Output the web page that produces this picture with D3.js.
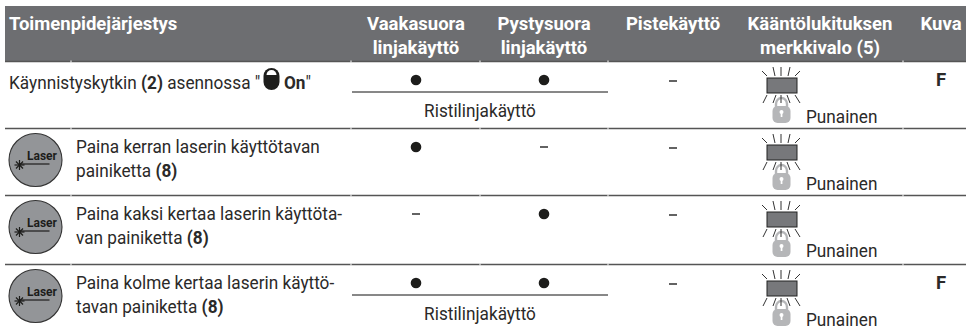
<!DOCTYPE html>
<html>
<head>
<meta charset="utf-8">
<script src="https://cdn.jsdelivr.net/npm/d3@7"></script>
<style>
  body { margin: 0; background: #fff; }
  text { font-family: Roboto, "Liberation Sans", sans-serif; }
</style>
</head>
<body>
<div id="chart"></div>
<script>
(function() {
  var width = 971, height = 330;

  var columns = ["Toimenpidejärjestys", "Vaakasuora", "Pystysuora", "Pistekäyttö", "Kääntölukituksen", "Kuva"];
  var columnsLine2 = ["", "linjakäyttö", "linjakäyttö", "", "merkkivalo (5)", ""];
  var rowIds = ["r1", "r2", "r3", "r4"];

  var rowLabels = [
    [["Käynnistyskytkin ", false], ["(2)", true], [" asennossa \"", false]],
    [["Paina kerran laserin käyttötavan", false]],
    [["Paina kaksi kertaa laserin käyttöta-", false]],
    [["Paina kolme kertaa laserin käyttö-", false]]
  ];
  var rowLabels2 = [
    [],
    [["painiketta ", false], ["(8)", true]],
    [["van painiketta ", false], ["(8)", true]],
    [["tavan painiketta ", false], ["(8)", true]]
  ];

  var horizontal = ["on", "on", "off", "on"];
  var vertical = ["on", "off", "on", "on"];
  var point = ["off", "off", "off", "off"];
  var crossLabel = ["Ristilinjakäyttö", "", "", "Ristilinjakäyttö"];
  var lampLabel = ["Punainen", "Punainen", "Punainen", "Punainen"];
  var figure = ["F", "", "", "F"];

  var colX = d3.scaleOrdinal().domain(columns).range([9, 416, 544, 673, 820, 941]);
  var rowTop = d3.scaleOrdinal().domain(rowIds).range([62, 129, 196, 265]);
  var gaps = [71, 351, 480, 608, 903];

  var ink = "#2b2a29", grey = "#6d6e71", bodySize = 18.5, headSize = 18.5, bodyWidth = 0.93;

  var svg = d3.select("#chart").append("svg")
    .attr("width", width)
    .attr("height", height)
    .style("display", "block");

  function label(g, x, y, parts, size, anchor, fill, squeeze) {
    var t = g.append("text")
      .attr("transform", "translate(" + x + "," + y + ") scale(" + (squeeze || 1) + ",1)")
      .attr("text-anchor", anchor)
      .style("font-size", size + "px")
      .attr("fill", fill);
    parts.forEach(function(p) {
      t.append("tspan").attr("font-weight", p[1] ? 700 : 400).text(p[0]);
    });
    return t;
  }

  // header band
  svg.append("rect").attr("x", 5).attr("y", 6).attr("width", 961).attr("height", 55).attr("fill", grey);

  columns.forEach(function(c, i) {
    var anchor = i === 0 ? "start" : "middle";
    label(svg, colX(c), 30, [[c, true]], headSize, anchor, "#fff");
    if (columnsLine2[i] !== "") label(svg, colX(c), 54, [[columnsLine2[i], true]], headSize, anchor, "#fff");
  });

  // row separators, small white gaps at the column borders
  rowIds.forEach(function(id, i) {
    var y = rowTop(id) - 0.5;
    svg.append("line").attr("x1", 5).attr("x2", 966).attr("y1", y).attr("y2", y)
      .attr("stroke", "#555").attr("stroke-width", 1.4);
    svg.selectAll(".gap" + i)
      .data(gaps)
      .enter().append("rect")
      .attr("class", "gap" + i)
      .attr("x", function(d) { return d - 0.5 })
      .attr("y", y - 1)
      .attr("width", 1)
      .attr("height", 2)
      .attr("fill", "#fff");
  });

  rowIds.forEach(function(id, i) {
    var top = rowTop(id), g = svg.append("g");
    var textX = i === 0 ? 9 : 76;

    label(g, textX, top + (i === 0 ? 27 : 24), rowLabels[i], bodySize, "start", ink, bodyWidth);
    if (rowLabels2[i].length) label(g, textX, top + 48, rowLabels2[i], bodySize, "start", ink, bodyWidth);

    if (i > 0) laserButton(g, 35.5, top + 31);
    else {
      lockGlyph(g, 271.5, top);
      label(g, 284, top + 27, [["On", true], ["\"", false]], bodySize, "start", ink, bodyWidth);
    }

    mark(g, horizontal[i], colX(columns[1]), top + 18);
    mark(g, vertical[i], colX(columns[2]), top + 18);
    mark(g, point[i], colX(columns[3]), top + 19);

    if (crossLabel[i]) {
      g.append("line").attr("x1", 352).attr("x2", 608)
        .attr("y1", top + 30).attr("y2", top + 30).attr("stroke", "#111").attr("stroke-width", 1);
      label(g, 480, top + 55, [[crossLabel[i], false]], bodySize, "middle", ink, bodyWidth);
    }

    lamp(g, 782, top);
    label(g, 806, top + 61, [[lampLabel[i], false]], bodySize, "start", ink, bodyWidth);
    if (figure[i]) label(g, colX(columns[5]), top + 24, [[figure[i], true]], bodySize, "middle", ink);
  });

  function mark(g, state, x, y) {
    if (state === "on") g.append("circle").attr("cx", x).attr("cy", y).attr("r", 5.3).attr("fill", "#1d1d1b");
    else g.append("rect").attr("x", x - 4).attr("y", y - 0.7).attr("width", 8).attr("height", 1.4).attr("fill", "#222");
  }

  function lockGlyph(g, x, top) {
    g.append("rect").attr("x", x - 8).attr("y", top + 6).attr("width", 16).attr("height", 22).attr("rx", 8).attr("fill", "#1d1d1b");
    g.append("path")
      .attr("d", "M" + (x - 5) + "," + (top + 13) + " a5,5 0 0 1 10,0 z")
      .attr("fill", "#fff");
  }

  function lamp(g, x, top) {
    var upper = [[-20, 9, -15, 14], [-9, 5, -7, 14], [-1, 5, -1, 14], [8, 5, 6, 14], [18, 9, 13, 14]];
    var lower = [[-15, 33, -19, 41], [-6, 33, -9, 41], [-1, 33, -1, 41], [5, 33, 8, 41], [13, 33, 18, 41]];
    // padlock under the lamp, drawn first so the middle rays sit on it
    g.append("path").attr("d", "M" + (x - 6) + "," + (top + 46) + " v-4 a5.5,6 0 0 1 11,0 v4")
      .attr("fill", "none").attr("stroke", "#b5b6b8").attr("stroke-width", 2.4);
    g.append("rect").attr("x", x - 9.5).attr("y", top + 44).attr("width", 18).attr("height", 17).attr("rx", 5).attr("fill", "#b5b6b8");
    g.append("circle").attr("cx", x - 0.5).attr("cy", top + 50).attr("r", 2).attr("fill", "#fff");
    g.append("rect").attr("x", x - 1.3).attr("y", top + 50).attr("width", 1.7).attr("height", 5).attr("fill", "#fff");
    upper.concat(lower).forEach(function(r) {
      g.append("line").attr("x1", x + r[0]).attr("y1", top + r[1]).attr("x2", x + r[2]).attr("y2", top + r[3])
        .attr("stroke", "#333").attr("stroke-width", 1);
    });
    g.append("rect").attr("x", x - 15).attr("y", top + 16).attr("width", 30).attr("height", 15)
      .attr("fill", "#77787b").attr("stroke", "#222").attr("stroke-width", 1);
  }

  function laserButton(g, x, y) {
    g.append("circle").attr("cx", x).attr("cy", y).attr("r", 26.5)
      .attr("fill", "#939598").attr("stroke", "#333").attr("stroke-width", 1.1);
    g.append("text").attr("x", x + 6.5).attr("y", y).attr("text-anchor", "middle")
      .attr("font-weight", 700).style("font-size", "12px").attr("fill", "#1d1d1b").text("Laser");
    g.append("line").attr("x1", x - 16).attr("x2", x + 14).attr("y1", y + 4).attr("y2", y + 4)
      .attr("stroke", "#1d1d1b").attr("stroke-width", 1.2);
    // little star where the beam starts
    d3.range(4).forEach(function(k) {
      var a = k * Math.PI / 4;
      g.append("line")
        .attr("x1", x - 16 - 5 * Math.cos(a)).attr("y1", y + 5 - 5 * Math.sin(a))
        .attr("x2", x - 16 + 5 * Math.cos(a)).attr("y2", y + 5 + 5 * Math.sin(a))
        .attr("stroke", "#1d1d1b").attr("stroke-width", 1.2);
    });
  }
})();
</script>
</body>
</html>
